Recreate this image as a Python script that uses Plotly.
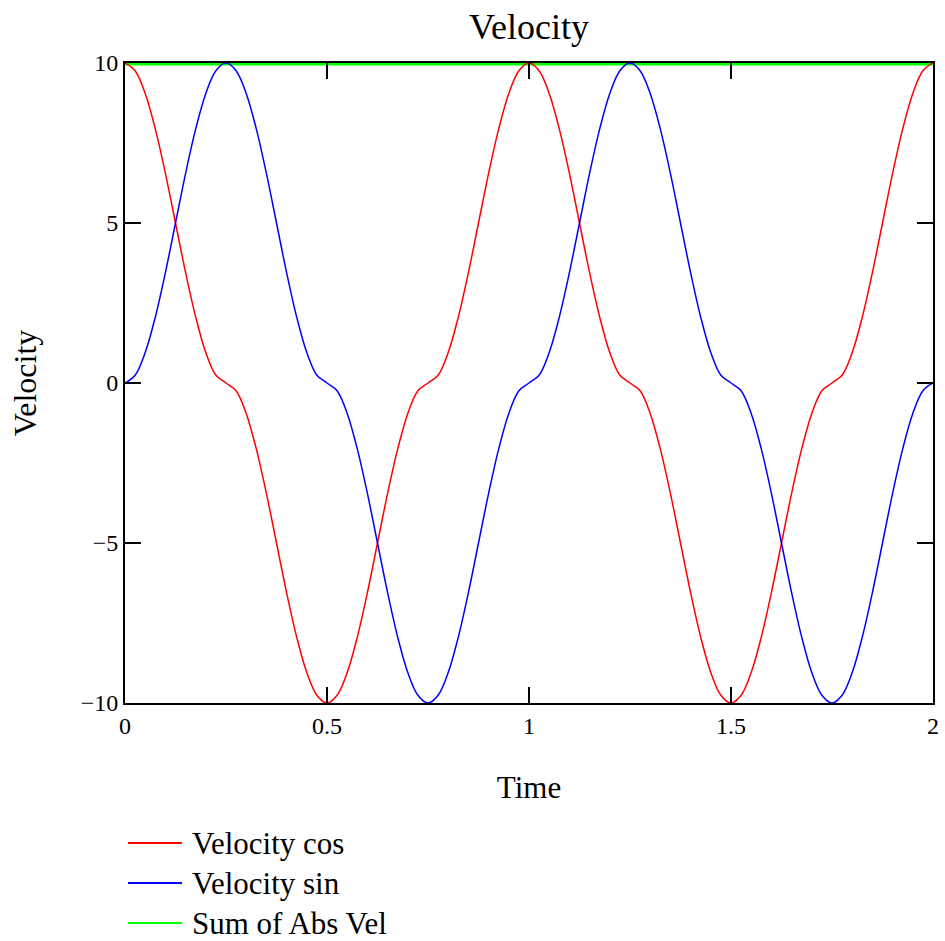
import plotly.graph_objects as go

time = [0.0, 0.025, 0.05, 0.075, 0.1, 0.125, 0.15, 0.175, 0.2, 0.225,
        0.25, 0.275, 0.3, 0.325, 0.35, 0.375, 0.4, 0.425, 0.45, 0.475,
        0.5, 0.525, 0.55, 0.575, 0.6, 0.625, 0.65, 0.675, 0.7, 0.725,
        0.75, 0.775, 0.8, 0.825, 0.85, 0.875, 0.9, 0.925, 0.95, 0.975,
        1.0, 1.025, 1.05, 1.075, 1.1, 1.125, 1.15, 1.175, 1.2, 1.225,
        1.25, 1.275, 1.3, 1.325, 1.35, 1.375, 1.4, 1.425, 1.45, 1.475,
        1.5, 1.525, 1.55, 1.575, 1.6, 1.625, 1.65, 1.675, 1.7, 1.725,
        1.75, 1.775, 1.8, 1.825, 1.85, 1.875, 1.9, 1.925, 1.95, 1.975,
        2.0]

velocity_cos = [10, 9.76, 9.05, 7.94, 6.55, 5.0, 3.45, 2.06, 0.95, 0.24,
                0, -0.24, -0.95, -2.06, -3.45, -5.0, -6.55, -7.94, -9.05, -9.76,
                -10, -9.76, -9.05, -7.94, -6.55, -5.0, -3.45, -2.06, -0.95, -0.24,
                0, 0.24, 0.95, 2.06, 3.45, 5.0, 6.55, 7.94, 9.05, 9.76,
                10, 9.76, 9.05, 7.94, 6.55, 5.0, 3.45, 2.06, 0.95, 0.24,
                0, -0.24, -0.95, -2.06, -3.45, -5.0, -6.55, -7.94, -9.05, -9.76,
                -10, -9.76, -9.05, -7.94, -6.55, -5.0, -3.45, -2.06, -0.95, -0.24,
                0, 0.24, 0.95, 2.06, 3.45, 5.0, 6.55, 7.94, 9.05, 9.76,
                10]

velocity_sin = [0, 0.24, 0.95, 2.06, 3.45, 5.0, 6.55, 7.94, 9.05, 9.76,
                10, 9.76, 9.05, 7.94, 6.55, 5.0, 3.45, 2.06, 0.95, 0.24,
                0, -0.24, -0.95, -2.06, -3.45, -5.0, -6.55, -7.94, -9.05, -9.76,
                -10, -9.76, -9.05, -7.94, -6.55, -5.0, -3.45, -2.06, -0.95, -0.24,
                0, 0.24, 0.95, 2.06, 3.45, 5.0, 6.55, 7.94, 9.05, 9.76,
                10, 9.76, 9.05, 7.94, 6.55, 5.0, 3.45, 2.06, 0.95, 0.24,
                0, -0.24, -0.95, -2.06, -3.45, -5.0, -6.55, -7.94, -9.05, -9.76,
                -10, -9.76, -9.05, -7.94, -6.55, -5.0, -3.45, -2.06, -0.95, -0.24,
                0]

sum_time = [0.0, 2.0]
sum_abs_vel = [10, 10]

series_names = ["Velocity cos", "Velocity sin", "Sum of Abs Vel"]
series_colors = ["#ff0000", "#0000ff", "#00ff00"]

x_ticks = [0, 0.5, 1, 1.5, 2]
x_tick_labels = ["0", "0.5", "1", "1.5", "2"]
y_ticks = [-10, -5, 0, 5, 10]
y_tick_labels = ["\u221210", "\u22125", "0", "5", "10"]

FONT = "Liberation Serif, Times New Roman, serif"

fig = go.Figure()
fig.add_trace(go.Scatter(x=sum_time, y=sum_abs_vel, mode="lines", name=series_names[2],
                         line=dict(color=series_colors[2], width=5),
                         showlegend=False))
fig.add_trace(go.Scatter(x=time, y=velocity_cos, mode="lines", name=series_names[0],
                         line=dict(color=series_colors[0], width=1.5, shape="spline"),
                         showlegend=False))
fig.add_trace(go.Scatter(x=time, y=velocity_sin, mode="lines", name=series_names[1],
                         line=dict(color=series_colors[1], width=1.5, shape="spline"),
                         showlegend=False))

# manual legend below the plot (paper coordinates)
legend_rows_y = [-0.21875, -0.28125, -0.34375]
for name, color, ly in zip(series_names, series_colors, legend_rows_y):
    fig.add_shape(type="line", xref="paper", yref="paper",
                  x0=0.0037, x1=0.0705, y0=ly, y1=ly,
                  line=dict(color=color, width=2))
    fig.add_annotation(xref="paper", yref="paper", x=0.0804, y=ly,
                       xanchor="left", yanchor="middle", showarrow=False,
                       text=name, font=dict(family=FONT, size=31, color="black"))

fig.update_layout(
    width=945, height=941,
    autosize=False,
    paper_bgcolor="white", plot_bgcolor="white",
    margin=dict(l=125, r=12, t=63, b=238, autoexpand=False),
    font=dict(family=FONT, color="black"),
    title=dict(text="Velocity", xref="paper", x=0.5, xanchor="center", y=0.972, yanchor="middle",
               font=dict(family=FONT, size=36, color="black")),
    showlegend=False,
    xaxis=dict(range=[0, 2], tickvals=x_ticks, ticktext=x_tick_labels,
               showgrid=False, zeroline=False, showline=True, linecolor="black",
               linewidth=2, mirror="ticks", ticks="inside", ticklen=16, tickwidth=2,
               tickcolor="black", tickfont=dict(family=FONT, size=24), automargin=False,
               title=dict(text="Time", font=dict(family=FONT, size=31), standoff=39)),
    yaxis=dict(range=[-10, 10], tickvals=y_ticks, ticktext=y_tick_labels,
               showgrid=False, zeroline=False, showline=True, linecolor="black",
               linewidth=2, mirror="ticks", ticks="inside", ticklen=16, tickwidth=2,
               tickcolor="black", tickfont=dict(family=FONT, size=24), automargin=False,
               title=dict(text="Velocity", font=dict(family=FONT, size=32), standoff=34)),
)

fig.write_html("out.html",
               config={"displayModeBar": False, "responsive": False},
               post_script="document.body.style.margin='0';document.body.style.overflow='hidden';")
